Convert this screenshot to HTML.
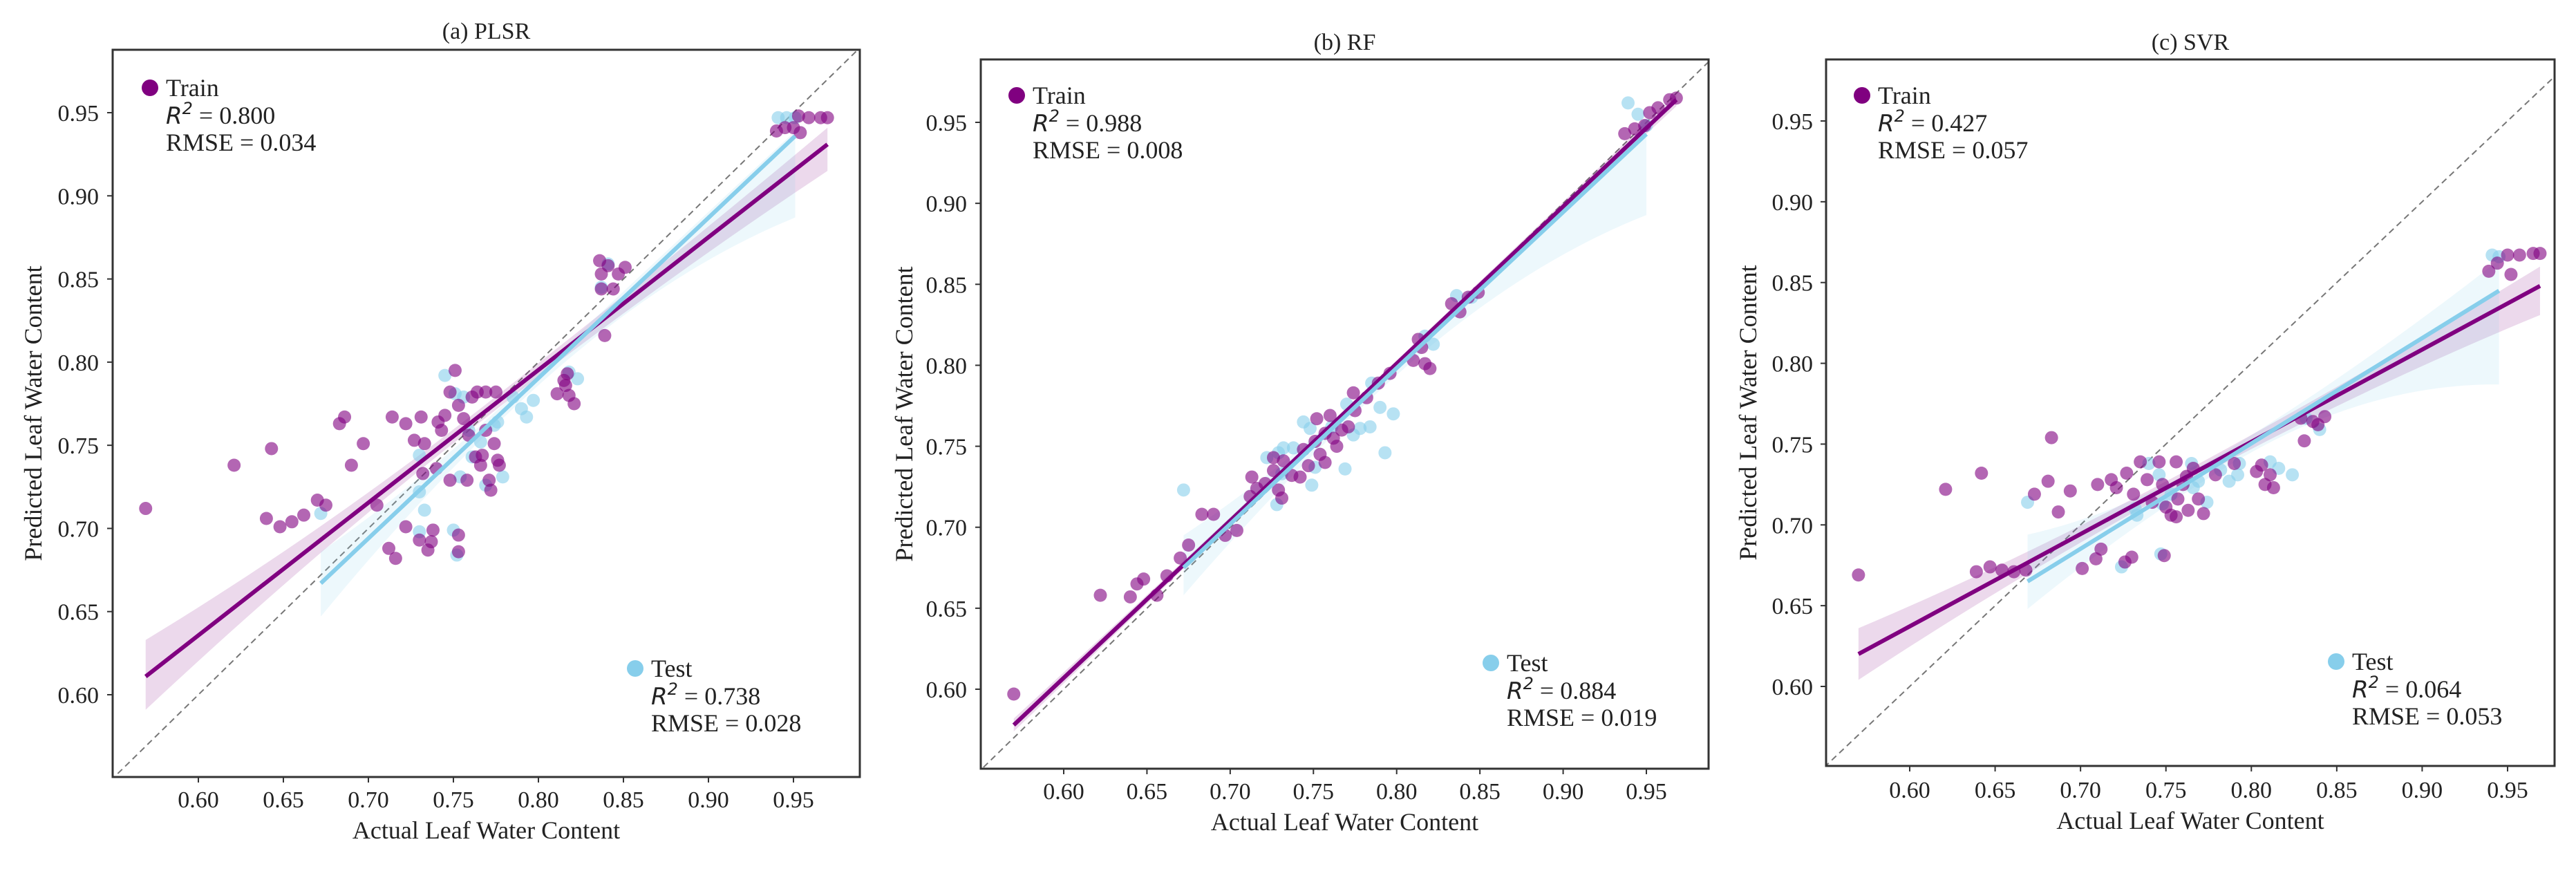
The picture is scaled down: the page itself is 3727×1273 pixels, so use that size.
<!DOCTYPE html>
<html><head><meta charset="utf-8"><style>
html,body{margin:0;padding:0;background:#fff;width:3727px;height:1273px;overflow:hidden}
svg{display:block}
text{font-family:"Liberation Serif",serif;fill:#222}
.it{font-family:"DejaVu Sans",sans-serif;font-style:italic}
</style></head><body>
<svg id="chart" width="3727" height="1273" viewBox="0 0 3727 1273" xmlns="http://www.w3.org/2000/svg"></svg>
<script>
// ---------- Panel (a) PLSR ----------
const aTrainX=[0.569,0.621,0.643,0.640,0.648,0.655,0.662,0.670,0.675,0.683,0.686,0.690,0.697,0.705,0.714,0.722,0.722,0.712,0.716,0.727,0.731,0.730,0.738,0.733,0.741,0.745,0.743,0.748,0.751,0.753,0.756,0.759,0.761,0.763,0.766,0.769,0.767,0.771,0.772,0.774,0.776,0.777,0.753,0.753,0.732,0.740,0.748,0.758,0.764,0.769,0.775,0.735,0.737,0.836,0.841,0.847,0.851,0.837,0.837,0.844,0.839,0.811,0.815,0.816,0.818,0.821,0.817,0.940,0.945,0.950,0.954,0.953,0.959,0.966,0.970];
const aTrainY=[0.712,0.738,0.748,0.706,0.701,0.704,0.708,0.717,0.714,0.763,0.767,0.738,0.751,0.714,0.767,0.763,0.701,0.688,0.682,0.753,0.767,0.693,0.699,0.751,0.764,0.768,0.759,0.782,0.795,0.774,0.766,0.756,0.779,0.743,0.738,0.759,0.744,0.729,0.723,0.751,0.741,0.738,0.696,0.686,0.733,0.736,0.729,0.729,0.782,0.782,0.782,0.687,0.692,0.861,0.858,0.853,0.857,0.853,0.844,0.844,0.816,0.781,0.789,0.786,0.780,0.775,0.793,0.939,0.941,0.941,0.938,0.948,0.947,0.947,0.947];
const aTestX=[0.672,0.730,0.733,0.730,0.750,0.752,0.745,0.751,0.756,0.759,0.761,0.766,0.769,0.774,0.776,0.779,0.785,0.790,0.793,0.797,0.818,0.823,0.841,0.837,0.941,0.946,0.951,0.730,0.754];
const aTestY=[0.709,0.744,0.711,0.698,0.699,0.684,0.792,0.781,0.779,0.759,0.743,0.752,0.726,0.762,0.764,0.731,0.779,0.772,0.767,0.777,0.794,0.790,0.859,0.845,0.947,0.947,0.947,0.722,0.731];
const aTrainFit=[0.798,0.1569];
const aTestFit=[0.964,0.0192];
const aTrainBand=[0.022,0.020,0.004,0.010,0.016];
const aTestBand=[0.019,0.020,0.004,0.003,0.049];
const aTrainStats=["0.800","0.034"];
const aTestStats=["0.738","0.028"];

// ---------- Panel (b) RF ----------
const bTrainX=[0.570,0.622,0.640,0.644,0.648,0.656,0.662,0.670,0.675,0.683,0.690,0.697,0.704,0.712,0.713,0.716,0.721,0.726,0.729,0.731,0.732,0.737,0.742,0.744,0.751,0.752,0.754,0.757,0.760,0.762,0.764,0.767,0.771,0.774,0.775,0.782,0.789,0.796,0.810,0.813,0.815,0.817,0.820,0.833,0.838,0.843,0.849,0.937,0.943,0.949,0.952,0.957,0.964,0.968,0.747,0.757,0.726];
const bTrainY=[0.597,0.658,0.657,0.665,0.668,0.658,0.670,0.681,0.689,0.708,0.708,0.695,0.698,0.719,0.731,0.724,0.727,0.735,0.723,0.718,0.741,0.732,0.731,0.748,0.753,0.767,0.745,0.758,0.769,0.755,0.750,0.760,0.762,0.783,0.772,0.780,0.789,0.795,0.803,0.816,0.811,0.801,0.798,0.838,0.833,0.842,0.845,0.943,0.946,0.948,0.956,0.959,0.964,0.965,0.738,0.740,0.743];
const bTestX=[0.672,0.728,0.729,0.732,0.738,0.744,0.748,0.749,0.751,0.761,0.769,0.770,0.774,0.778,0.784,0.785,0.790,0.793,0.798,0.817,0.822,0.836,0.845,0.939,0.945,0.950,0.722,0.731];
const bTestY=[0.723,0.714,0.746,0.749,0.749,0.765,0.761,0.726,0.737,0.762,0.736,0.776,0.757,0.761,0.762,0.789,0.774,0.746,0.770,0.818,0.813,0.843,0.842,0.962,0.955,0.948,0.743,0.733];
const bTrainFit=[0.970,0.025];
const bTestFit=[0.963,0.0279];
const bTrainBand=[0.004,0.004,0.002,0.004,0.004];
const bTestBand=[0.020,0.017,0.004,0.003,0.050];
const bTrainStats=["0.988","0.008"];
const bTestStats=["0.884","0.019"];

// ---------- Panel (c) SVR ----------
const cTrainX=[0.570,0.621,0.642,0.639,0.647,0.654,0.661,0.668,0.673,0.681,0.683,0.687,0.694,0.701,0.709,0.712,0.710,0.718,0.721,0.727,0.730,0.726,0.731,0.735,0.739,0.742,0.746,0.748,0.750,0.753,0.756,0.757,0.760,0.762,0.756,0.763,0.766,0.769,0.772,0.749,0.779,0.790,0.803,0.806,0.808,0.813,0.811,0.829,0.831,0.836,0.839,0.843,0.939,0.944,0.950,0.952,0.957,0.965,0.969];
const cTrainY=[0.669,0.722,0.732,0.671,0.674,0.672,0.671,0.672,0.719,0.727,0.754,0.708,0.721,0.673,0.679,0.685,0.725,0.728,0.723,0.732,0.680,0.677,0.719,0.739,0.728,0.714,0.739,0.725,0.711,0.706,0.739,0.716,0.725,0.730,0.705,0.709,0.735,0.716,0.707,0.681,0.731,0.738,0.733,0.737,0.725,0.723,0.731,0.766,0.752,0.764,0.762,0.767,0.857,0.862,0.867,0.855,0.867,0.868,0.868];
const cTestX=[0.669,0.724,0.732,0.733,0.740,0.746,0.747,0.748,0.753,0.765,0.766,0.769,0.774,0.782,0.787,0.792,0.793,0.811,0.816,0.824,0.832,0.840,0.941,0.945];
const cTestY=[0.714,0.674,0.710,0.706,0.738,0.731,0.682,0.713,0.719,0.738,0.723,0.727,0.714,0.734,0.727,0.731,0.738,0.739,0.735,0.731,0.766,0.759,0.867,0.866];
const cTrainFit=[0.571,0.2946];
const cTestFit=[0.652,0.2288];
const cTrainBand=[0.016,0.016,0.004,0.012,0.018];
const cTestBand=[0.029,0.017,0.005,0.019,0.058];
const cTrainStats=["0.427","0.057"];
const cTestStats=["0.064","0.053"];

const yTicks=[0.60,0.65,0.70,0.75,0.80,0.85,0.90,0.95];
const xTicks=[0.60,0.65,0.70,0.75,0.80,0.85,0.90,0.95];

const NS="http://www.w3.org/2000/svg";
const svg=document.getElementById('chart');
const PURPLE="#800080", BLUE="#87CEEB";
function mk(tag,attrs,parent){const e=document.createElementNS(NS,tag);for(const k in attrs)e.setAttribute(k,attrs[k]);(parent||svg).appendChild(e);return e;}

const panels=[
 {key:'a',title:'(a) PLSR',L:163,T:72,R:1244,B:1124,x60:287,x95:1148,y60:1005,y95:163,titleY:56,xtY:1168,xlY:1213,ylX:48,ytR:143,
  tr:[aTrainX,aTrainY,aTrainFit,aTrainBand,aTrainStats],te:[aTestX,aTestY,aTestFit,aTestBand,aTestStats],
  leg1:[217,127],leg2:[919,967]},
 {key:'b',title:'(b) RF',L:1419,T:86,R:2472,B:1112,x60:1539,x95:2382,y60:997,y95:177,titleY:72,xtY:1156,xlY:1201,ylX:1308,ytR:1399,
  tr:[bTrainX,bTrainY,bTrainFit,bTrainBand,bTrainStats],te:[bTestX,bTestY,bTestFit,bTestBand,bTestStats],
  leg1:[1471,138],leg2:[2157,959]},
 {key:'c',title:'(c) SVR',L:2642,T:86,R:3696,B:1108,x60:2763,x95:3628,y60:993,y95:175,titleY:72,xtY:1154,xlY:1199,ylX:2529,ytR:2623,
  tr:[cTrainX,cTrainY,cTrainFit,cTrainBand,cTrainStats],te:[cTestX,cTestY,cTestFit,cTestBand,cTestStats],
  leg1:[2694,138],leg2:[3380,957]}
];

panels.forEach(p=>{
  const g=mk('g',{});
  
  
  const sx=v=>p.x60+(v-0.60)/0.35*(p.x95-p.x60);
  const sy=v=>p.y60+(v-0.60)/0.35*(p.y95-p.y60);
  const cid='clip-'+p.key;
  const cp=mk('clipPath',{id:cid},g);
  mk('rect',{x:p.L,y:p.T,width:p.R-p.L,height:p.B-p.T},cp);
  const t=mk('text',{x:(p.L+p.R)/2,y:p.titleY,'text-anchor':'middle','font-size':34},g);
  t.textContent=p.title;
  
  
  const pl=mk('g',{'clip-path':'url(#'+cid+')'},g);
  const d=mk('line',{x1:sx(0.4),y1:sy(0.4),x2:sx(1.1),y2:sy(1.1),stroke:'#777','stroke-width':2,'stroke-dasharray':'9,6'},pl);
  
  
  function band(series,color,name){
    const [xs,ys,fit,bd]=series;
    const x0=Math.min(...xs),x1=Math.max(...xs);
    const xm=xs.reduce((s,v)=>s+v,0)/xs.length;
    const off=(x,side)=>{const end=x<xm?(side?bd[0]:bd[1]):(side?bd[3]:bd[4]);const ext=x<xm?x0:x1;const r=(x-xm)/(ext-xm);return bd[2]+(end-bd[2])*r*r;};
    const up=[],lo=[];
    for(let i=0;i<=40;i++){const x=x0+(x1-x0)*i/40;const yl=fit[0]*x+fit[1];up.push(sx(x)+','+sy(yl+off(x,true)));lo.push(sx(x)+','+sy(yl-off(x,false)));}
    const poly=mk('polygon',{points:up.concat(lo.reverse()).join(' '),fill:color,'fill-opacity':0.15,stroke:'none'},pl);
    
    
  }
  function fitLine(series,color,name){
    const [xs,ys,fit]=series;
    const x0=Math.min(...xs),x1=Math.max(...xs);
    const l=mk('line',{x1:sx(x0),y1:sy(fit[0]*x0+fit[1]),x2:sx(x1),y2:sy(fit[0]*x1+fit[1]),stroke:color,'stroke-width':6},pl);
    
    
  }
  function pts(series,color,name){
    const [xs,ys]=series;
    xs.forEach((x,i)=>{
      const c=mk('circle',{cx:sx(x),cy:sy(ys[i]),r:9.5,fill:color,'fill-opacity':0.6},pl);
      
      
    });
  }
  band(p.tr,PURPLE,'train');band(p.te,BLUE,'test');
  pts(p.te,BLUE,'test');pts(p.tr,PURPLE,'train');
  fitLine(p.tr,PURPLE,'train');fitLine(p.te,BLUE,'test');
  const fr=mk('rect',{x:p.L,y:p.T,width:p.R-p.L,height:p.B-p.T,fill:'none',stroke:'#333','stroke-width':3},g);
  
  
  xTicks.forEach(v=>{
    const X=sx(v);
    mk('line',{x1:X,y1:p.B,x2:X,y2:p.B+8,stroke:'#333','stroke-width':2},g);
    const tx=mk('text',{x:X,y:p.xtY,'text-anchor':'middle','font-size':34},g);
    tx.textContent=v.toFixed(2);
    
    
  });
  yTicks.forEach(v=>{
    const Y=sy(v);
    mk('line',{x1:p.L-8,y1:Y,x2:p.L,y2:Y,stroke:'#333','stroke-width':2},g);
    const ty=mk('text',{x:p.ytR,y:Y+12,'text-anchor':'end','font-size':34},g);
    ty.textContent=v.toFixed(2);
    
    
  });
  const xl=mk('text',{x:(p.L+p.R)/2,y:p.xlY,'text-anchor':'middle','font-size':36},g);
  xl.textContent='Actual Leaf Water Content';
  
  
  const ylc=(p.T+p.B)/2;
  const yl=mk('text',{x:p.ylX,y:ylc,'text-anchor':'middle','dominant-baseline':'central','font-size':36,transform:'rotate(-90 '+p.ylX+' '+ylc+')'},g);
  yl.textContent='Predicted Leaf Water Content';
  
  
  function legend(pos,color,label,stats,name){
    const lg=mk('g',{},g);
    
    
    mk('circle',{cx:pos[0],cy:pos[1],r:12,fill:color},lg);
    const tx=pos[0]+23;
    const a=mk('text',{x:tx,y:pos[1]+12,'font-size':36},lg);a.textContent=label;
    const r=mk('text',{x:tx,y:pos[1]+52,'font-size':36},lg);
    const s1=mk('tspan',{class:'it','font-size':34},r);s1.textContent='R';
    const s2=mk('tspan',{dy:-14,'font-size':24,class:'it'},r);s2.textContent='2';
    const s3=mk('tspan',{dy:14},r);s3.textContent=' = '+stats[0];
    const m=mk('text',{x:tx,y:pos[1]+91,'font-size':36},lg);m.textContent='RMSE = '+stats[1];
  }
  legend(p.leg1,PURPLE,'Train',p.tr[4],'train');
  legend(p.leg2,BLUE,'Test',p.te[4],'test');
});
</script>
</body></html>
